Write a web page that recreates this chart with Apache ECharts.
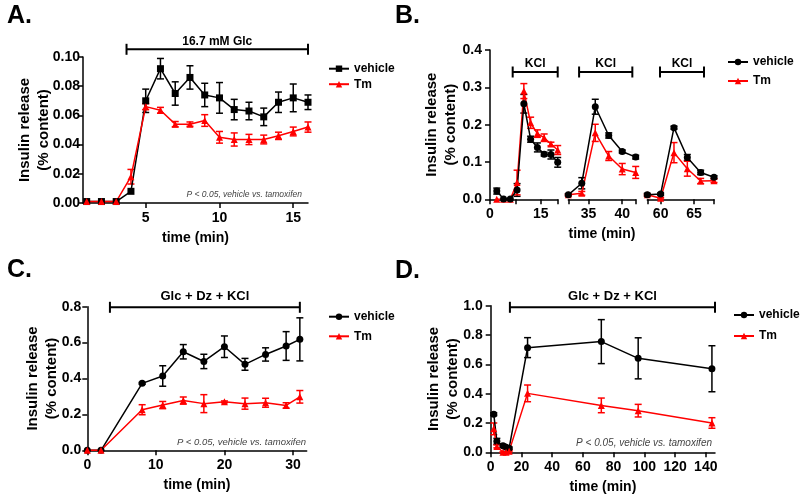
<!DOCTYPE html>
<html><head><meta charset="utf-8">
<script src="https://cdn.jsdelivr.net/npm/echarts@6/dist/echarts.min.js"></script>
<style>html,body{margin:0;padding:0;background:#fff}#c{width:800px;height:501px}</style>
</head><body><div id="c"></div>
<script>
// ---------- Panel A ----------
const timeA = [1,2,3,4,5,6,7,8,9,10,11,12,13,14,15,16];
const vehA = [0.001,0.001,0.001,0.008,0.070,0.092,0.075,0.086,0.074,0.072,0.064,0.063,0.059,0.069,0.072,0.069];
const vehAErr = [0,0,0,0,0.008,0.007,0.008,0.008,0.008,0.0105,0.007,0.006,0.006,0.007,0.0095,0.005];
const tmA = [0.001,0.001,0.001,0.018,0.066,0.0635,0.054,0.054,0.0565,0.045,0.0435,0.0435,0.0435,0.046,0.049,0.052];
const tmAErr = [0,0,0,0.005,0.002,0.002,0.0018,0.0015,0.004,0.004,0.0045,0.0035,0.003,0.0025,0.003,0.0035];
const ticksA_x = [5,10,15];
// ---------- Panel B (broken axis, three segments) ----------
const timeB1 = [2,4,6,8,10,12,14,16,18,20];
const vehB1 = [0.022,0.001,0.001,0.025,0.256,0.161,0.139,0.121,0.120,0.099];
const vehB1Err = [0.008,0,0,0.017,0.025,0.008,0.012,0.005,0.012,0.013];
const tmB1 = [0.0,0.0,0.0,0.045,0.29,0.205,0.176,0.165,0.148,0.132];
const tmB1Err = [0,0,0,0.033,0.02,0.015,0.01,0.01,0.005,0.012];
const timeB2 = [32,34,36,38,40,42];
const vehB2 = [0.012,0.043,0.248,0.171,0.128,0.113];
const vehB2Err = [0.003,0.015,0.02,0.007,0.004,0.005];
const tmB2 = [0.012,0.016,0.178,0.116,0.081,0.072];
const tmB2Err = [0.002,0.005,0.023,0.012,0.015,0.016];
const timeB3 = [58,60,62,64,66,68];
const vehB3 = [0.012,0.014,0.192,0.112,0.072,0.059];
const vehB3Err = [0.004,0.003,0.004,0.008,0.006,0.004];
const tmB3 = [0.012,0.003,0.125,0.082,0.049,0.05];
const tmB3Err = [0.002,0.002,0.027,0.02,0.007,0.005];
const ticksB1 = [0,7.5,15,20], labelsB1 = [0,15];
const ticksB2 = [32,35,40,42], labelsB2 = [35,40];
const ticksB3 = [58,60,65,68], labelsB3 = [60,65];
// ---------- Panel C ----------
const timeC = [0,2,8,11,14,17,20,23,26,29,31];
const vehC = [0,0,0.373,0.414,0.549,0.495,0.577,0.479,0.534,0.581,0.618];
const vehCErr = [0,0,0.005,0.057,0.04,0.04,0.06,0.033,0.037,0.08,0.12];
const tmC = [0,0,0.226,0.252,0.277,0.26,0.27,0.26,0.265,0.25,0.298];
const tmCErr = [0,0,0.028,0.02,0.02,0.05,0.005,0.031,0.025,0.015,0.035];
const ticksC_x = [0,10,20,30];
// ---------- Panel D ----------
const timeD = [2,4,8,10,12,24,72,96,144];
const vehD = [0.26,0.075,0.045,0.035,0.028,0.714,0.755,0.641,0.57];
const vehDErr = [0.01,0.02,0.01,0.01,0.008,0.068,0.15,0.14,0.157];
const tmD = [0.16,0.04,0.0,0.0,0.008,0.402,0.32,0.284,0.2];
const tmDErr = [0.04,0.01,0.003,0.003,0.005,0.057,0.05,0.043,0.036];
const ticksD_x = [0,20,40,60,80,100,120,140];
// treatment periods (x extents, data units)
const periodA = [3.7,16], periodB1 = [6.7,20], periodB2 = [33.6,41.5], periodB3 = [59.9,66.5];
const periodC = [3.3,31], periodD = [12.5,146];

const FONT = '"Liberation Sans", Arial, Helvetica, sans-serif';
const BLK = '#000', RED = '#ff0000';

function pts(t, m){ return t.map((x,i)=>[x, m[i]]); }
function errData(t, m, e){ return t.map((x,i)=>[x, m[i]-e[i], m[i]+e[i], e[i]]).filter(d=>d[3]>0); }

function errSeries(idx, data, color){
  return {type:'custom', xAxisIndex: idx, yAxisIndex: idx, data, z: 2, silent:true, clip:false,
    renderItem(params, api){
      const x = api.value(0);
      const lo = api.coord([x, api.value(1)]);
      const hi = api.coord([x, api.value(2)]);
      const w = 3.5;
      const st = {stroke: color, lineWidth: 1.5};
      return {type:'group', children:[
        {type:'line', shape:{x1:lo[0], y1:lo[1], x2:hi[0], y2:hi[1]}, style:st},
        {type:'line', shape:{x1:hi[0]-w, y1:hi[1], x2:hi[0]+w, y2:hi[1]}, style:st},
        {type:'line', shape:{x1:lo[0]-w, y1:lo[1], x2:lo[0]+w, y2:lo[1]}, style:st}
      ]};
    }};
}
function lineSeries(name, idx, data, color, symbol, size){
  return {type:'line', name, xAxisIndex: idx, yAxisIndex: idx, data, symbol, symbolSize: size,
    showSymbol: true, showAllSymbol:true, lineStyle:{color, width:1.5}, itemStyle:{color}, z: 3, clip:false};
}
function bracketSeries(idx, period, label, offset, textGap, fs){
  return {type:'custom', xAxisIndex: idx, yAxisIndex: idx, data:[period], clip:false, silent:true, z:4,
    renderItem(params, api){
      const y = params.coordSys.y + offset;
      const a = api.coord([api.value(0), 0])[0];
      const b = api.coord([api.value(1), 0])[0];
      const st = {stroke:BLK, lineWidth:2};
      const h = 5.5;
      return {type:'group', children:[
        {type:'line', shape:{x1:a, y1:y, x2:b, y2:y}, style:st},
        {type:'line', shape:{x1:a, y1:y-h, x2:a, y2:y+h}, style:st},
        {type:'line', shape:{x1:b, y1:y-h, x2:b, y2:y+h}, style:st},
        {type:'text', style:{text:label, x:(a+b)/2, y:y-textGap, align:'center', verticalAlign:'middle',
          font:'bold '+fs+'px '+FONT, fill:BLK}}
      ]};
    }};
}

const axLine = {show:true, onZero:false, lineStyle:{color:BLK, width:1.5}};
const labelStyle = {color:BLK, fontSize:14, fontWeight:'bold', fontFamily:FONT};
const nameStyleX = {color:BLK, fontSize:14, fontWeight:'bold', fontFamily:FONT};
const nameStyleY = {color:BLK, fontSize:15, fontWeight:'bold', fontFamily:FONT, lineHeight:19};

function xAx(idx, min, max, ticks, labels, name){
  return {type:'value', gridIndex: idx, min, max,
    axisLine: axLine,
    axisTick:{show:true, length:5, customValues:ticks, lineStyle:{color:BLK, width:1.5}},
    axisLabel:Object.assign({customValues:labels, margin:8}, labelStyle),
    splitLine:{show:false},
    name: name || '', nameLocation:'middle', nameGap:28, nameMoveOverlap:false, nameTextStyle:nameStyleX};
}
function yAx(idx, max, interval, dec, show, margin, name, gap){
  return {type:'value', gridIndex: idx, min:0, max, interval, show,
    axisLine: axLine,
    axisTick:{show:true, length:5, lineStyle:{color:BLK, width:1.5}},
    axisLabel:Object.assign({formatter:v=>v.toFixed(dec), margin}, labelStyle),
    splitLine:{show:false},
    name: name || '', nameLocation:'middle', nameRotate:90, nameGap:gap || 0, nameMoveOverlap:false,
    nameTextStyle:nameStyleY};
}
const yName = 'Insulin release\n(% content)';

function legendFor(names, left, top, gap){
  return {data:names, left, top, orient:'vertical', itemWidth:20, itemHeight:8, itemGap:gap,
    formatter: n=>n.split('_')[0], textStyle:{fontSize:12, fontWeight:'bold', fontFamily:FONT, color:BLK},
    selectedMode:false};
}

const option = {
  animation:false,
  backgroundColor:'#fff',
  grid:[
    {left:83, top:57, width:225, height:146},
    {left:490, top:50, width:67.7, height:149.3},
    {left:568.3, top:50, width:67.4, height:149.3},
    {left:647.3, top:50, width:66.7, height:149.3},
    {left:87.3, top:306.7, width:219.4, height:143.6},
    {left:490.7, top:305.7, width:224.3, height:146.6}
  ],
  xAxis:[
    xAx(0, 0.75, 16, ticksA_x, ticksA_x, 'time (min)'),
    xAx(1, 0, 20, ticksB1, labelsB1),
    xAx(2, 32, 42, ticksB2, labelsB2, 'time (min)'),
    xAx(3, 58, 68, ticksB3, labelsB3),
    xAx(4, 0, 32, ticksC_x, ticksC_x, 'time (min)'),
    xAx(5, 0, 146, ticksD_x, ticksD_x, 'time (min)')
  ],
  yAxis:[
    yAx(0, 0.1, 0.02, 2, true, 3, yName, 30),
    yAx(1, 0.4, 0.1, 1, true, 8, yName, 30),
    yAx(2, 0.4, 0.1, 1, false, 8),
    yAx(3, 0.4, 0.1, 1, false, 8),
    yAx(4, 0.8, 0.2, 1, true, 6, yName, 26),
    yAx(5, 1.0, 0.2, 1, true, 8, yName, 28)
  ],
  legend:[
    legendFor(['vehicle_A','Tm_A'], 323, 57.7, 3.5),
    legendFor(['vehicle_B','Tm_B'], 722, 51, 7),
    legendFor(['vehicle_C','Tm_C'], 323, 305.7, 7.6),
    legendFor(['vehicle_D','Tm_D'], 728, 304, 9)
  ],
  graphic:[
    {type:'text', x:7, y:16, style:{text:'A.', font:'bold 25px '+FONT, fill:BLK, verticalAlign:'middle'}},
    {type:'text', x:395, y:16, style:{text:'B.', font:'bold 25px '+FONT, fill:BLK, verticalAlign:'middle'}},
    {type:'text', x:7, y:270, style:{text:'C.', font:'bold 25px '+FONT, fill:BLK, verticalAlign:'middle'}},
    {type:'text', x:395, y:271, style:{text:'D.', font:'bold 25px '+FONT, fill:BLK, verticalAlign:'middle'}},
    {type:'text', x:302, y:195, style:{text:'P < 0.05, vehicle vs. tamoxifen', font:'italic 8.5px '+FONT, fill:'#444', align:'right', verticalAlign:'middle'}},
    {type:'text', x:306, y:442.7, style:{text:'P < 0.05, vehicle vs. tamoxifen', font:'italic 9.5px '+FONT, fill:'#444', align:'right', verticalAlign:'middle'}},
    {type:'text', x:712, y:443, style:{text:'P < 0.05, vehicle vs. tamoxifen', font:'italic 10px '+FONT, fill:'#444', align:'right', verticalAlign:'middle'}}
  ],
  series:[
    errSeries(0, errData(timeA, vehA, vehAErr), BLK),
    errSeries(0, errData(timeA, tmA, tmAErr), RED),
    lineSeries('vehicle_A', 0, pts(timeA, vehA), BLK, 'rect', 7),
    lineSeries('Tm_A', 0, pts(timeA, tmA), RED, 'triangle', 7),
    bracketSeries(0, periodA, '16.7 mM Glc', -7.7, 7.6, 12),

    errSeries(1, errData(timeB1, vehB1, vehB1Err), BLK),
    errSeries(1, errData(timeB1, tmB1, tmB1Err), RED),
    lineSeries('Tm_B', 1, pts(timeB1, tmB1), RED, 'triangle', 7),
    lineSeries('vehicle_B', 1, pts(timeB1, vehB1), BLK, 'circle', 7),
    bracketSeries(1, periodB1, 'KCl', 22, 8.5, 12),
    errSeries(2, errData(timeB2, vehB2, vehB2Err), BLK),
    errSeries(2, errData(timeB2, tmB2, tmB2Err), RED),
    lineSeries('Tm_B', 2, pts(timeB2, tmB2), RED, 'triangle', 7),
    lineSeries('vehicle_B', 2, pts(timeB2, vehB2), BLK, 'circle', 7),
    bracketSeries(2, periodB2, 'KCl', 22, 8.5, 12),
    errSeries(3, errData(timeB3, vehB3, vehB3Err), BLK),
    errSeries(3, errData(timeB3, tmB3, tmB3Err), RED),
    lineSeries('Tm_B', 3, pts(timeB3, tmB3), RED, 'triangle', 7),
    lineSeries('vehicle_B', 3, pts(timeB3, vehB3), BLK, 'circle', 7),
    bracketSeries(3, periodB3, 'KCl', 22, 8.5, 12),

    errSeries(4, errData(timeC, vehC, vehCErr), BLK),
    errSeries(4, errData(timeC, tmC, tmCErr), RED),
    lineSeries('vehicle_C', 4, pts(timeC, vehC), BLK, 'circle', 7),
    lineSeries('Tm_C', 4, pts(timeC, tmC), RED, 'triangle', 7),
    bracketSeries(4, periodC, 'Glc + Dz + KCl', 0.6, 10.6, 13),

    errSeries(5, errData(timeD, vehD, vehDErr), BLK),
    errSeries(5, errData(timeD, tmD, tmDErr), RED),
    lineSeries('vehicle_D', 5, pts(timeD, vehD), BLK, 'circle', 7),
    lineSeries('Tm_D', 5, pts(timeD, tmD), RED, 'triangle', 7),
    bracketSeries(5, periodD, 'Glc + Dz + KCl', 1.6, 10.6, 13)
  ]
};
const chart = echarts.init(document.getElementById('c'), null, {renderer:'canvas'});
chart.setOption(option);
</script>
</body></html>
